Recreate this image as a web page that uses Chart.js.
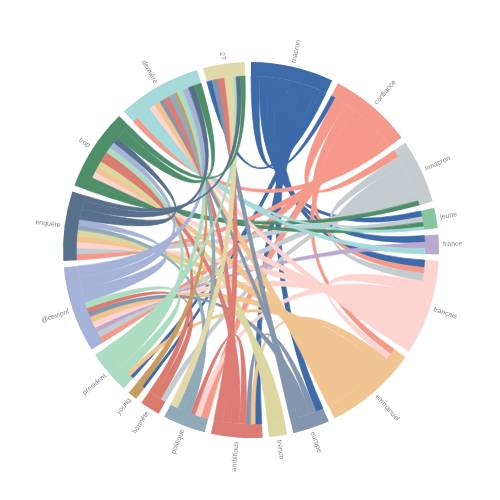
<!DOCTYPE html>
<html><head><meta charset="utf-8">
<script src="https://cdn.jsdelivr.net/npm/chart.js@4.4.1/dist/chart.umd.min.js"></script>
<style>html,body{margin:0;padding:0;background:#fff}#wrap{width:500px;height:500px}</style>
</head><body>
<div id="wrap"><canvas id="c"></canvas></div>
<script>
const labels = ["macron","confiance","#macron","jeune","france","français","emmanuel","europe","french","ambitious","politique","honnête","young","president","@cevipof","enquête","trop","dernière","27"];
const colors = ["#3d6aa9","#f59a8b","#c4cccf","#86c79e","#baa8cf","#fdd4d0","#f0c592","#8496ad","#dcd69f","#dc7c74","#8fabb9","#d97c6e","#c99b60","#acdcc2","#a4b3d7","#58708b","#4e8f69","#a5dadb","#e1d9a9"];
// links: [groupA, groupB, width at A, width at B]
const links = [
[0,1,3,1.5],[0,3,3,2],[0,4,3,2.2],[0,5,4,2.5],[0,7,4,2.5],[0,9,3.5,2.2],[0,12,1.5,1],[0,13,1.6,1.2],[0,18,2,1.8],
[1,2,4,2.5],[1,5,3.5,2],[1,6,3,2],[1,10,4,2.5],[1,14,3.7,2],[1,15,3,2],[1,17,3,2],
[2,3,3,1.8],[2,5,4,2.5],[2,11,2.5,1.8],[2,14,3.4,2],[2,15,3,2],[2,16,1.5,2.5],
[3,16,1.5,2],[3,17,1,2.5],
[4,14,2,1.5],[4,17,1.9,2.5],
[5,6,4,2],[5,10,4,2],[5,14,4,2],[5,15,4,2],[5,16,3.5,2],[5,17,3,2],
[6,9,3,1.5],[6,13,3,1.5],[6,14,5,2],[6,15,5,2],[6,16,4.9,2],[6,17,4,2],
[7,9,2,1.5],[7,14,2.5,1.5],[7,17,1.9,1.5],[7,18,2.5,2],
[8,15,2.8,2],[8,16,2.8,2],
[9,10,2.2,1.5],[9,16,3,2],[9,17,2.5,2],[9,18,3,2.2],
[10,15,2.5,1.5],[10,17,2.2,2],[10,18,2.5,2.8],
[11,14,2.5,1.5],[11,16,2,1.5],
[12,17,2,1],
[13,14,3,2],[13,16,3,2],[13,17,3,2],[13,18,1.8,1],
[14,15,4.5,2],[14,16,4,2],[14,17,3.7,2],
[15,16,3.5,2],[15,17,3,2],[15,18,1.5,1.5],
[16,17,3.4,2.4],[16,18,2,1.5]
];
const gapValue = 1.94;

const n = labels.length;
const ends = labels.map(() => []);
links.forEach((l, k) => {
  ends[l[0]].push({other: l[1], v: l[2], k: k, side: 0});
  ends[l[1]].push({other: l[0], v: l[3], k: k, side: 1});
});
ends.forEach(e => e.sort((a, b) => a.other - b.other));
const totals = ends.map(e => e.reduce((s, x) => s + x.v, 0));

const data = [], bg = [];
totals.forEach((t, i) => { data.push(t); bg.push(colors[i]); data.push(gapValue); bg.push('rgba(0,0,0,0)'); });

const chordPlugin = {
  id: 'chord',
  afterDatasetsDraw(chart) {
    const meta = chart.getDatasetMeta(0);
    const ctx = chart.ctx;
    const pos = links.map(() => [null, null]);
    const mids = [];
    let cx, cy, r, R;
    for (let i = 0; i < n; i++) {
      const arc = meta.data[2 * i];
      const p = arc.getProps(['x','y','startAngle','endAngle','innerRadius','outerRadius'], true);
      cx = p.x; cy = p.y; r = p.innerRadius; R = p.outerRadius;
      let cum = 0;
      const span = p.endAngle - p.startAngle;
      ends[i].forEach(e => {
        const a0 = p.startAngle + span * cum / totals[i];
        cum += e.v;
        const a1 = p.startAngle + span * cum / totals[i];
        pos[e.k][e.side] = [a0, a1];
      });
      mids[i] = (p.startAngle + p.endAngle) / 2;
    }
    ctx.save();
    ctx.lineWidth = 0.6;
    ctx.lineJoin = 'round';
    links.forEach((l, k) => {
      const [s0, s1] = pos[k][0];
      const [t0, t1] = pos[k][1];
      const src = l[3] > l[2] ? l[1] : l[0];
      ctx.fillStyle = colors[src];
      ctx.strokeStyle = colors[src];
      ctx.beginPath();
      ctx.moveTo(cx + r * Math.cos(s0), cy + r * Math.sin(s0));
      ctx.arc(cx, cy, r, s0, s1);
      ctx.quadraticCurveTo(cx, cy, cx + r * Math.cos(t0), cy + r * Math.sin(t0));
      ctx.arc(cx, cy, r, t0, t1);
      ctx.quadraticCurveTo(cx, cy, cx + r * Math.cos(s0), cy + r * Math.sin(s0));
      ctx.closePath();
      ctx.fill();
      ctx.stroke();
    });
    ctx.font = '7px "Liberation Sans", Arial, sans-serif';
    ctx.fillStyle = '#8a8a8a';
    ctx.textBaseline = 'middle';
    for (let i = 0; i < n; i++) {
      const m = mids[i];
      ctx.save();
      ctx.translate(cx, cy);
      ctx.rotate(m);
      ctx.translate(R + 4, 0);
      let deg = (m + Math.PI / 2) * 180 / Math.PI;
      deg = ((deg % 360) + 360) % 360;
      if (deg > 180) { ctx.rotate(Math.PI); ctx.textAlign = 'right'; }
      else ctx.textAlign = 'left';
      ctx.fillText(labels[i], 0, 0);
      ctx.restore();
    }
    ctx.restore();
  }
};

new Chart(document.getElementById('c'), {
  type: 'doughnut',
  data: { labels: data.map((_, i) => i % 2 ? '' : labels[i / 2]), datasets: [{ data: data, backgroundColor: bg, borderWidth: 0, hoverOffset: 0, offset: 0 }] },
  options: {
    responsive: true, maintainAspectRatio: false, animation: false,
    cutout: 174, rotation: 0,
    layout: { padding: { left: 63, right: 61, top: 62, bottom: 62 } },
    plugins: { legend: { display: false }, tooltip: { enabled: false } },
    events: []
  },
  plugins: [chordPlugin]
});
</script>
</body></html>
